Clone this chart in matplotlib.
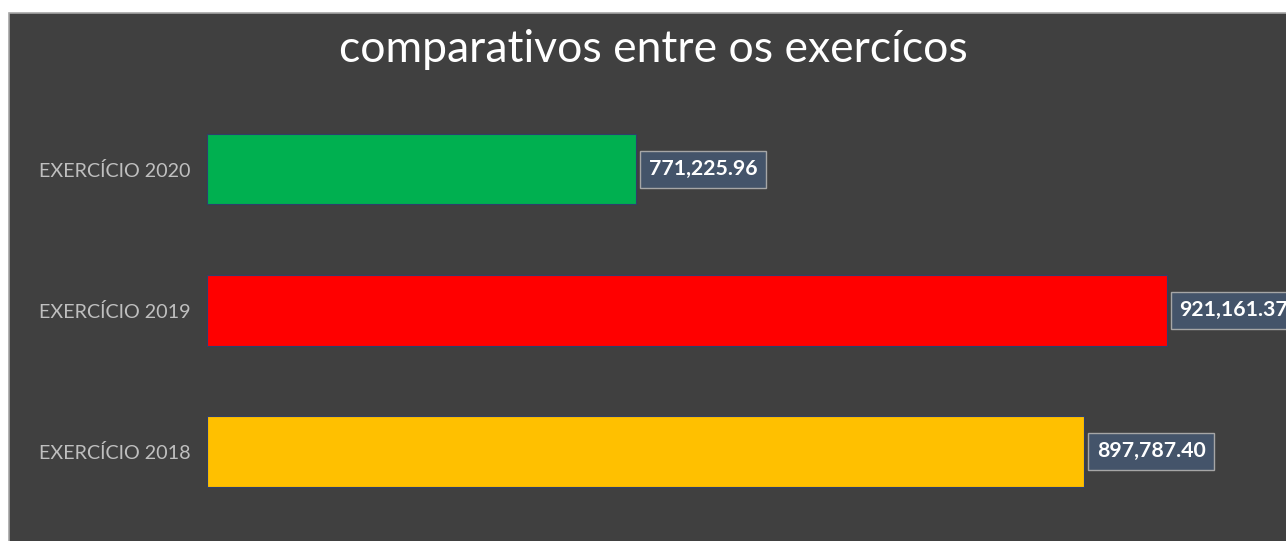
import matplotlib.pyplot as plt
from matplotlib.patches import Rectangle

categories = ["EXERCÍCIO 2018", "EXERCÍCIO 2019", "EXERCÍCIO 2020"]
values = [897787.40, 921161.37, 771225.96]
colors = ["#FFC000", "#FF0000", "#00B050"]
title = "comparativos entre os exercícos"

plt.rcParams['font.family'] = ['Lato', 'DejaVu Sans']

W, H = 1286, 541
fig = plt.figure(figsize=(W / 100, H / 100), dpi=100, facecolor="white")

# dark chart area with light gray border
bg = Rectangle((9 / W, -0.01), 1.0, (H - 13) / H + 0.01, transform=fig.transFigure,
               facecolor="#404040", edgecolor="#A6A6A6", linewidth=1.2, zorder=-5)
fig.patches.append(bg)

ax = fig.add_axes([207 / W, (H - 522) / H, (1269 - 207) / W, (522 - 98.5) / H])
ax.set_facecolor("none")
ax.set_zorder(2)

ypos = range(len(categories))
ax.barh(ypos, [v - 650000 for v in values], left=650000, height=0.5,
        color=colors, edgecolor="#2F3F6B", linewidth=0.8)

ax.set_xlim(650000, 950000)
ax.set_ylim(-0.5, 2.5)
ax.set_yticks(list(ypos))
ax.set_yticklabels(categories, color="#BFBFBF", fontsize=14.2)
ax.tick_params(axis="y", length=0, pad=12)
ax.set_xticks([])
for s in ax.spines.values():
    s.set_visible(False)

for y, v in zip(ypos, values):
    ax.annotate(f"{v:,.2f}", xy=(v, y), xytext=(9, 0), textcoords="offset points",
                ha="left", va="center", color="white", fontsize=15.3, fontweight="bold",
                bbox=dict(boxstyle="square,pad=0.4", facecolor="#44546A",
                          edgecolor="#A6A6A6", linewidth=1),
                annotation_clip=False)

fig.text(653 / W, 1 - 49 / H, title, ha="center", va="center", color="white",
         fontsize=32, zorder=3)

fig.savefig("out.png", dpi=100, facecolor="white")
